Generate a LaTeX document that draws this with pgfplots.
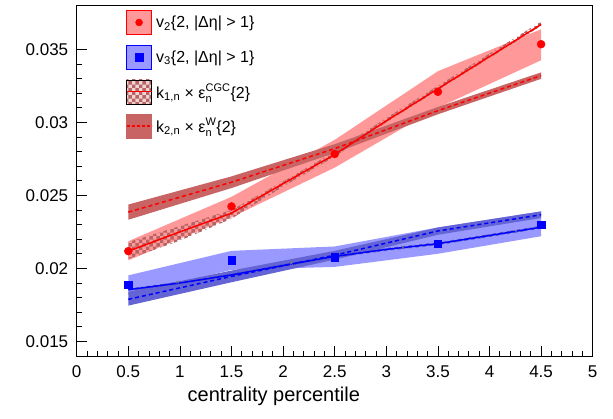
\documentclass[border=0pt]{standalone}
\usepackage{fontspec}
\setmainfont{Liberation Sans}
\usepackage{pgfplots}
\pgfplotsset{compat=1.18}
\usetikzlibrary{patterns}

\definecolor{pinkband}{RGB}{255,153,153}
\definecolor{lblueband}{RGB}{153,153,255}
\definecolor{dredband}{RGB}{200,100,100}
\definecolor{dblueband}{RGB}{100,100,212}
\definecolor{checkred}{RGB}{185,100,100}
\definecolor{checklight}{RGB}{240,212,212}
\definecolor{checkblue}{RGB}{90,90,190}

\pgfdeclarepatternformonly{bigcheck}{\pgfpointorigin}{\pgfqpoint{7.4pt}{7.4pt}}{\pgfqpoint{7.4pt}{7.4pt}}{%
  \pgfpathrectangle{\pgfpointorigin}{\pgfqpoint{3.7pt}{3.7pt}}%
  \pgfpathrectangle{\pgfqpoint{3.7pt}{3.7pt}}{\pgfqpoint{3.7pt}{3.7pt}}%
  \pgfusepath{fill}}
\newcommand{\eps}[2]{$\hbox{ε}_{\hbox{\fontsize{11}{12}\selectfont #1}}^{\hbox{\fontsize{11}{12}\selectfont #2}}$}

\begin{document}
\begin{tikzpicture}
\begin{axis}[
  name=ax, scale only axis, width=516pt, height=350.5pt,
  xmin=0, xmax=5, ymin=0.014, ymax=0.038,
  xtick={0,0.5,1,1.5,2,2.5,3,3.5,4,4.5,5},
  xticklabels={0,0.5,1,1.5,2,2.5,3,3.5,4,4.5,5},
  ytick={0.015,0.02,0.025,0.03,0.035},
  yticklabels={0.015,0.02,0.025,0.03,0.035},
  minor x tick num=4, minor y tick num=4,
  tick align=inside, xtick pos=left, ytick pos=left,
  major tick length=10pt, minor tick length=5pt,
  axis line style={line width=0.9pt},
  every tick/.style={black, line width=0.8pt},
  tick label style={font=\fontsize{17}{20}\selectfont},
  xticklabel style={yshift=-6pt},
  yticklabel style={xshift=-5pt},
  xlabel={centrality percentile},
  xlabel style={at={(axis description cs:0.382,0)}, anchor=base, yshift=-45.5pt, font=\fontsize{20}{24}\selectfont},
  legend cell align=left,
  legend style={at={(axis description cs:0.0955,1)}, anchor=north west, yshift=-4.5pt,
    draw=none, fill=none, inner sep=0pt, outer sep=0pt, row sep=9.8pt, column sep=4pt,
    nodes={inner sep=0pt}, font=\fontsize{16}{19}\selectfont},
]
% v2 systematic band
\addplot[fill=pinkband, draw=none, forget plot] coordinates {
 (0.5,0.02186) (1.5,0.0249) (2.5,0.0288) (3.5,0.0335) (4.5,0.03637)
 (4.5,0.03425) (3.5,0.0310) (2.5,0.0269) (1.5,0.0235) (0.5,0.02055)} -- cycle;
% k2 W band (red)
\addplot[fill=dredband, draw=none, forget plot] coordinates {
 (0.5,0.02437) (1.5,0.0263) (2.5,0.0285) (3.5,0.03105) (4.5,0.03342)
 (4.5,0.03298) (3.5,0.03055) (2.5,0.0279) (1.5,0.0255) (0.5,0.02333)} -- cycle;
% k1 CGC band (red)
\addplot[pattern=bigcheck, pattern color=checkred, draw=none, forget plot] coordinates {
 (0.5,0.0218) (1.0,0.0229) (1.5,0.0240) (2.0,0.02595) (2.5,0.0280) (3.0,0.0303) (3.5,0.0325) (4.0,0.0347) (4.5,0.0369)
 (4.5,0.0366) (4.0,0.0344) (3.5,0.0322) (3.0,0.0300) (2.5,0.02765) (2.0,0.0256) (1.5,0.0234) (1.0,0.0219) (0.5,0.02065)} -- cycle;
\addplot[red, line width=1.5pt, dash pattern=on 4pt off 3pt, forget plot] coordinates {
 (0.5,0.02385) (1.5,0.0259) (2.5,0.0282) (3.5,0.0308) (4.5,0.0332)};
\addplot[red, line width=1.5pt, forget plot] coordinates {
 (0.5,0.02118) (1.0,0.0225) (1.5,0.02378) (2.0,0.0258) (2.5,0.0278) (3.0,0.0301) (3.5,0.0323) (4.0,0.0345) (4.5,0.0367)};
\addplot[only marks, mark=*, mark size=4pt, red, forget plot] coordinates {
 (0.5,0.02118) (1.5,0.02424) (2.5,0.02783) (3.5,0.03209) (4.5,0.03535)};
% v3 systematic band
\addplot[fill=lblueband, draw=none, forget plot] coordinates {
 (0.5,0.01952) (1.5,0.0212) (2.5,0.0215) (3.5,0.0228) (4.5,0.0239)
 (4.5,0.0222) (3.5,0.0210) (2.5,0.0201) (1.5,0.0199) (0.5,0.0182)} -- cycle;
% k2 W band (blue)
\addplot[fill=dblueband, draw=none, forget plot] coordinates {
 (0.5,0.0184) (1.5,0.01985) (2.5,0.0212) (3.5,0.0228) (4.5,0.0239)
 (4.5,0.02345) (3.5,0.0223) (2.5,0.0206) (1.5,0.01905) (0.5,0.01745)} -- cycle;
% k1 CGC band (blue)
\addplot[pattern=bigcheck, pattern color=checkblue, draw=none, forget plot] coordinates {
 (0.5,0.01862) (1.0,0.0191) (1.5,0.01965) (2.0,0.0203) (2.5,0.02092) (3.0,0.0214) (3.5,0.02179) (4.0,0.02235) (4.5,0.02292)
 (4.5,0.02272) (4.0,0.02215) (3.5,0.02159) (3.0,0.0212) (2.5,0.02072) (2.0,0.0201) (1.5,0.01945) (1.0,0.0189) (0.5,0.01846)} -- cycle;
\addplot[blue, line width=1.5pt, dash pattern=on 4pt off 3pt, forget plot] coordinates {
 (0.5,0.01788) (1.5,0.01945) (2.5,0.0209) (3.5,0.02256) (4.5,0.02367)};
\addplot[blue, line width=1.5pt, forget plot] coordinates {
 (0.5,0.01854) (1.0,0.0190) (1.5,0.01955) (2.0,0.0202) (2.5,0.02082) (3.0,0.0213) (3.5,0.02169) (4.0,0.02225) (4.5,0.02282)};
\addplot[only marks, mark=x, mark size=2pt, gray, forget plot] coordinates {
 (0.98,0.01906) (2.08,0.02036) (3.16,0.02146) (4.26,0.02255)};
\addplot[only marks, mark=square*, mark size=3.7pt, blue, forget plot] coordinates {
 (0.5,0.01889) (1.5,0.02055) (2.5,0.02077) (3.5,0.02169) (4.5,0.02298)};

\addlegendimage{legend image code/.code={
  \fill[pinkband] (0pt,-12pt) rectangle (25pt,12pt);
  \draw[red, line width=1pt] (0pt,-12pt) rectangle (25pt,12pt);
  \fill[red] (12.5pt,0pt) circle (3.5pt);}}
\addlegendentry{v\textsubscript{2}\{2, |Δη| > 1\}}
\addlegendimage{legend image code/.code={
  \fill[lblueband] (0pt,-12pt) rectangle (25pt,12pt);
  \draw[blue, line width=1pt] (0pt,-12pt) rectangle (25pt,12pt);
  \fill[blue] (8.5pt,-4pt) rectangle (16.5pt,4pt);}}
\addlegendentry{v\textsubscript{3}\{2, |Δη| > 1\}}
\addlegendimage{legend image code/.code={
  \fill[checklight] (0pt,-12pt) rectangle (25pt,12pt);
  \fill[pattern=bigcheck, pattern color=checkred] (0pt,-12pt) rectangle (25pt,12pt);
  \draw[red, line width=1.2pt] (0pt,0pt) -- (25pt,0pt);}}
\addlegendentry{k\textsubscript{1,n} × \eps{n}{CGC}\{2\}}
\addlegendimage{legend image code/.code={
  \fill[dredband] (0pt,-12pt) rectangle (25pt,12pt);
  \draw[red, line width=1.2pt, dash pattern=on 3pt off 2pt] (0pt,0pt) -- (25pt,0pt);}}
\addlegendentry{k\textsubscript{2,n} × \eps{n}{W}\{2\}}
\end{axis}
\pgfresetboundingbox
\path ([shift={(-76.7pt,-63pt)}]ax.south west) rectangle ([shift={(20.3pt,5.5pt)}]ax.north east);
\end{tikzpicture}
\end{document}
